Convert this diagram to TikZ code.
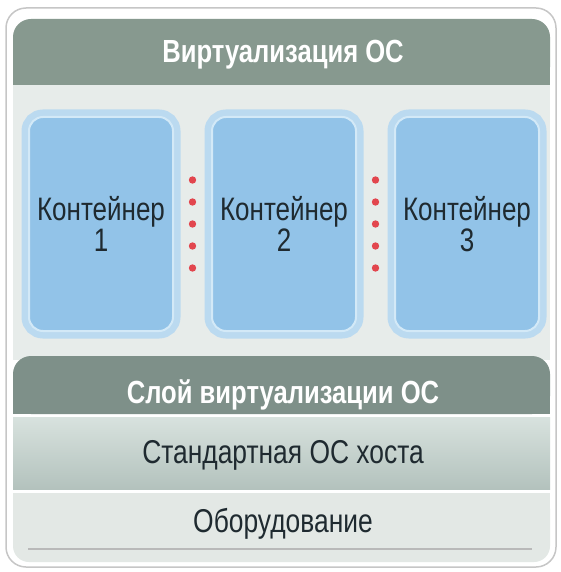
\documentclass[tikz,border=0pt]{standalone}
\usepackage{fontspec}
\setmainfont{Liberation Sans}[FakeStretch=0.8]
\usetikzlibrary{positioning, calc}

\definecolor{hdrgreen}{HTML}{87998F}
\definecolor{hdrdark}{HTML}{7E9089}
\definecolor{midbg}{HTML}{E7ECEA}
\definecolor{hostTop}{HTML}{D8E2DE}
\definecolor{hostBot}{HTML}{B3C2BD}
\definecolor{hwbg}{HTML}{E3E8E5}
\definecolor{contfill}{HTML}{92C3E8}
\definecolor{contglow}{HTML}{BBDAF0}
\definecolor{contline}{HTML}{D3E9F7}
\definecolor{dotred}{HTML}{E2464E}
\definecolor{txtdark}{HTML}{1F2A30}

\tikzset{
  container/.style={rectangle, rounded corners=14, fill=contfill, draw=contline, line width=2,
    preaction={draw=contglow, line width=15},
    minimum width=144, minimum height=214, align=center, text=txtdark,
    font=\fontsize{32.5}{31}\selectfont},
  layertext/.style={anchor=base, font=\fontsize{33}{30}\selectfont, text=txtdark},
  headtext/.style={anchor=base, font=\bfseries\fontsize{32}{30}\selectfont, text=white}
}

\begin{document}
\begin{tikzpicture}[x=1pt, y=-1pt, node distance=37]
        \useasboundingbox (0,0) rectangle (561,572);
        % Frame and bands
        \draw[rounded corners=20, draw=gray!45, line width=1.5, fill=white] (6,8) rectangle (556,567);
        \fill[midbg] (13,80) rectangle (550,360);
        \fill[hdrgreen, rounded corners=18] (13,19) rectangle (550,85);
        \fill[hdrgreen] (13,50) rectangle (550,85);
        \fill[hdrdark, rounded corners=18] (13,356) rectangle (550,414);
        \fill[hdrdark] (13,385) rectangle (550,414);
        \shade[top color=hostTop, bottom color=hostBot] (13,417) rectangle (550,489);
        \fill[hwbg, rounded corners=16] (13,493) rectangle (550,562);
        \fill[hwbg] (13,493) rectangle (550,520);
        \draw[gray!55, line width=2] (28,549) -- (532,549);

        % Nodes
        \node[headtext] (virt) at (283,63) {Виртуализация ОС};
        \node[container] (c1) at (101,224) {Контейнер\\1};
        \node[container, right=of c1] (c2) {Контейнер\\2};
        \node[container, right=of c2] (c3) {Контейнер\\3};
        \node[headtext] (layer) at (283,403) {Слой виртуализации ОС};
        \node[layertext] (host) at (283,463) {Стандартная ОС хоста};
        \node[layertext] (hw) at (283,532) {Оборудование};

        % Dots between containers
        \foreach \a/\b in {c1/c2, c2/c3}
          \foreach \dy in {-44,-22,0,22,44}
            \fill[dotred] ($(\a.east)!0.5!(\b.west)+(0,\dy)$) circle (3.7);
    \end{tikzpicture}
\end{document}
